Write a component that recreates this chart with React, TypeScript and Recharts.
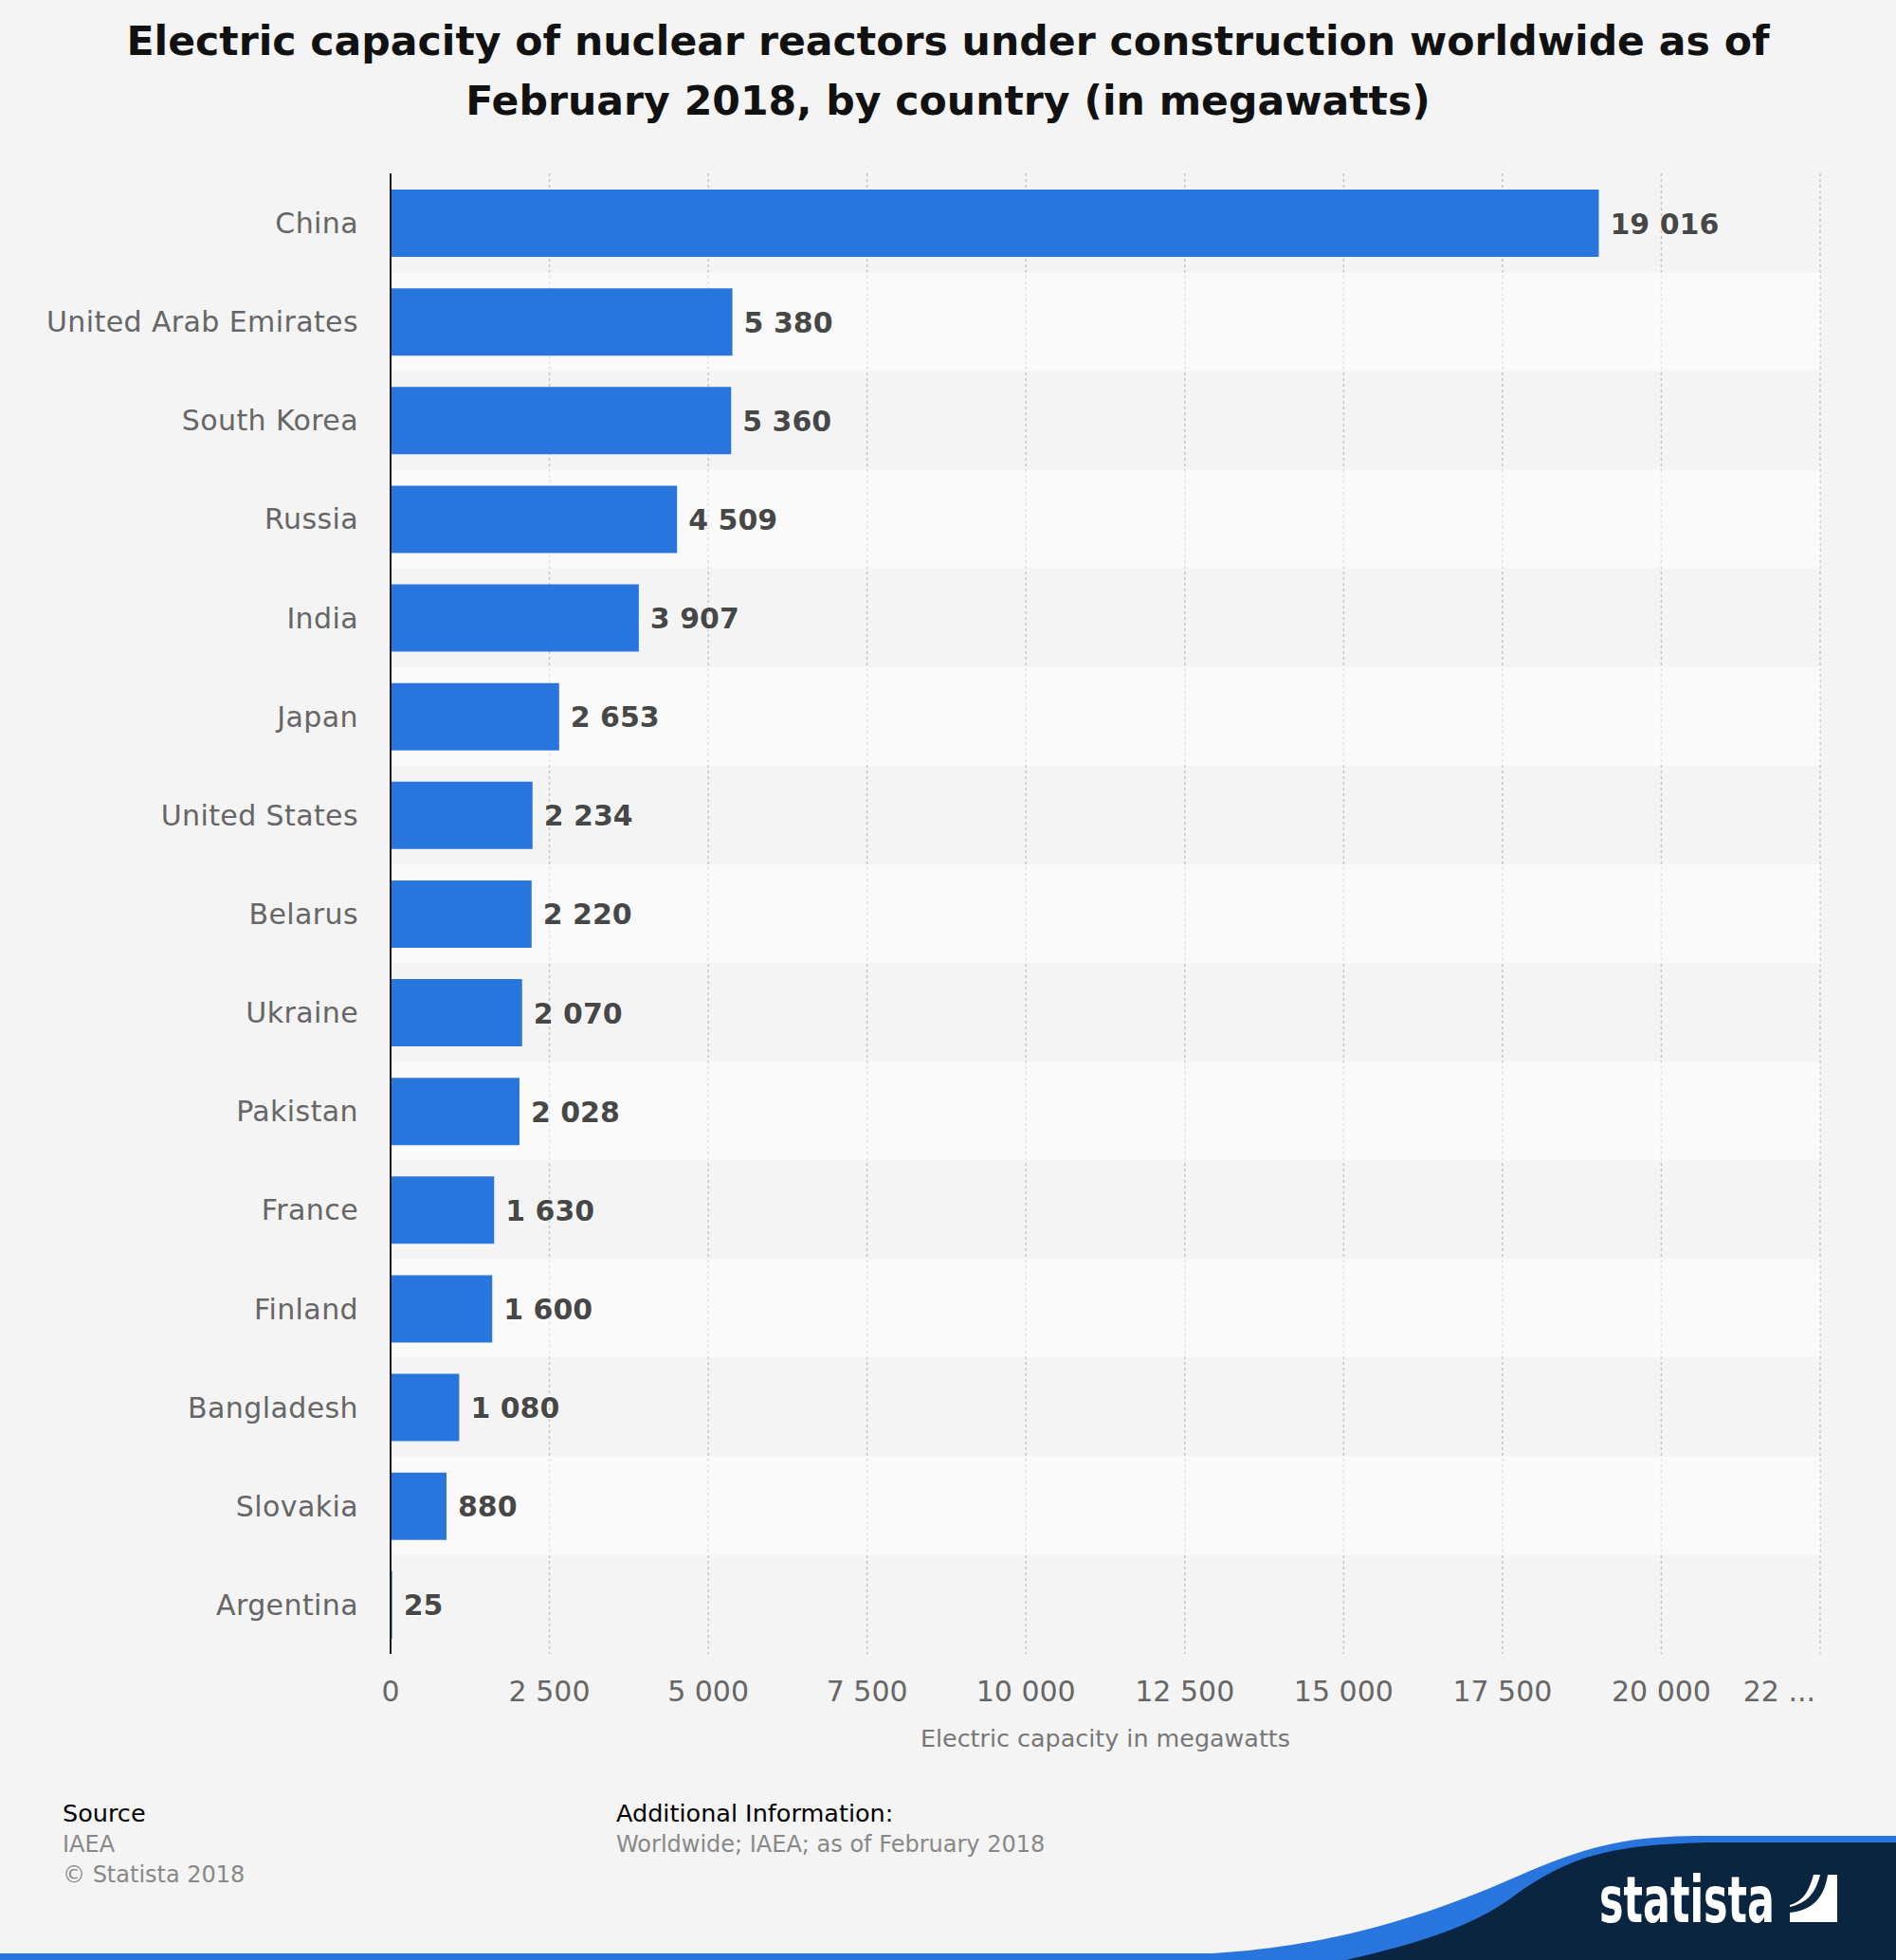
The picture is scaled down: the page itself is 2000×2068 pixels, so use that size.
import React from 'react';
import { BarChart, Bar, XAxis, YAxis, CartesianGrid, ReferenceArea, LabelList } from 'recharts';

const countries = [
  'China', 'United Arab Emirates', 'South Korea', 'Russia', 'India', 'Japan', 'United States',
  'Belarus', 'Ukraine', 'Pakistan', 'France', 'Finland', 'Bangladesh', 'Slovakia', 'Argentina',
];
const capacityMW = [19016, 5380, 5360, 4509, 3907, 2653, 2234, 2220, 2070, 2028, 1630, 1600, 1080, 880, 25];
const xTicks = [0, 2500, 5000, 7500, 10000, 12500, 15000, 17500, 20000, 22500];
const xTickLabels = ['0', '2 500', '5 000', '7 500', '10 000', '12 500', '15 000', '17 500', '20 000', '22 ...'];

const titleLines = [
  'Electric capacity of nuclear reactors under construction worldwide as of',
  'February 2018, by country (in megawatts)',
];
const axisTitle = 'Electric capacity in megawatts';

const data = countries.map((c, i) => ({ country: c, value: capacityMW[i] }));
const stripedRows = countries.filter((_, i) => i % 2 === 1);

const FONT = "'DejaVu Sans', sans-serif";
const BG = '#f4f4f4';
const BAR = '#2876dd';
const NAVY = '#0a2540';

const fmt = (n: number) => String(n).replace(/\B(?=(\d{3})+(?!\d))/g, ' ');

const XTick = (props: any) => {
  const { x, y, index } = props;
  const last = index === xTicks.length - 1;
  return (
    <text
      x={last ? x - 5 : x}
      y={y + 50}
      textAnchor={last ? 'end' : 'middle'}
      fontFamily={FONT}
      fontSize={30}
      fill="#666666"
    >
      {xTickLabels[index]}
    </text>
  );
};

const YTick = (props: any) => {
  const { x, y, payload } = props;
  return (
    <text x={x} y={y + 11} textAnchor="end" fontFamily={FONT} fontSize={30} fill="#666666" letterSpacing={0.4}>
      {payload.value}
    </text>
  );
};

const ValueLabel = (props: any) => {
  const { x, y, width, height, value } = props;
  return (
    <text
      x={x + width + 12}
      y={y + height / 2 + 11}
      fontFamily={FONT}
      fontSize={30}
      fontWeight="bold"
      fill="#474747"
      stroke="#ffffff"
      strokeWidth={2}
      paintOrder="stroke"
      strokeLinejoin="round"
    >
      {fmt(value)}
    </text>
  );
};

const AxisTitle = (props: any) => {
  const { viewBox } = props;
  return (
    <text
      x={viewBox.x + viewBox.width / 2}
      y={viewBox.y + 98}
      textAnchor="middle"
      fontFamily={FONT}
      fontSize={25.4}
      fill="#777777"
    >
      {axisTitle}
    </text>
  );
};

export default function App() {
  return (
    <div style={{ position: 'absolute', left: 0, top: 0, width: 2000, height: 2068, background: BG, overflow: 'hidden' }}>
      <svg width={2000} height={2068} style={{ position: 'absolute', left: 0, top: 0 }}>
        <text x={1000} y={58} textAnchor="middle" fontFamily={FONT} fontWeight="bold" fontSize={42.6} fill="#111111">
          {titleLines[0]}
        </text>
        <text x={1000} y={121} textAnchor="middle" fontFamily={FONT} fontWeight="bold" fontSize={42.6} fill="#111111">
          {titleLines[1]}
        </text>

        <text x={66} y={1922} fontFamily={FONT} fontSize={25.5} fill="#000000">Source</text>
        <text x={66} y={1954} fontFamily={FONT} fontSize={24} fill="#888888">IAEA</text>
        <text x={66} y={1986} fontFamily={FONT} fontSize={24} fill="#888888">© Statista 2018</text>
        <text x={650} y={1922} fontFamily={FONT} fontSize={25.5} fill="#000000">Additional Information:</text>
        <text x={650} y={1954} fontFamily={FONT} fontSize={24} fill="#888888">Worldwide; IAEA; as of February 2018</text>

        <rect x={0} y={2061} width={2000} height={7} fill={BAR} />
        <path
          d="M 1280 2061 C 1420 2052, 1520 2015, 1600 1980 C 1680 1945, 1720 1937, 1800 1937 L 2000 1937 L 2000 2068 L 1280 2068 Z"
          fill={BAR}
        />
        <path
          d="M 1420 2068 C 1500 2050, 1560 2030, 1600 1998 C 1660 1955, 1710 1945, 1810 1944 L 2000 1944 L 2000 2068 Z"
          fill={NAVY}
        />
        <text
          x={1687}
          y={2028}
          fontFamily="'Liberation Sans Narrow', 'DejaVu Sans Condensed', 'Roboto', sans-serif"
          fontWeight="bold"
          fontSize={68}
          fill="#ffffff"
          textLength={185}
          lengthAdjust="spacingAndGlyphs"
        >
          statista
        </text>
        <rect x={1888} y={1978} width={50} height={50} fill="#ffffff" />
        <path d="M 1888 1978 L 1913 1978 C 1908 1996, 1902 2006, 1888 2010 Z" fill={NAVY} />
        <path d="M 1920 1978 L 1928 1978 C 1924 2004, 1910 2016, 1888 2018 L 1888 2012 C 1906 2008, 1915 1998, 1920 1978 Z" fill={NAVY} />
      </svg>

      <BarChart
        width={2000}
        height={2068}
        data={data}
        layout="vertical"
        margin={{ top: 183, right: 80, bottom: 223, left: 12 }}
        style={{ position: 'absolute', left: 0, top: 0 }}
      >
        {stripedRows.map((c) => (
          <ReferenceArea key={c} y1={c} y2={c} fill="#ffffff" fillOpacity={0.5} stroke="none" />
        ))}
        <CartesianGrid horizontal={false} vertical stroke="#c6c6c6" strokeWidth={1.5} strokeDasharray="3 3" />
        <XAxis
          type="number"
          domain={[0, 22500]}
          ticks={xTicks}
          interval={0}
          axisLine={false}
          tickLine={false}
          tickSize={0}
          tickMargin={0}
          height={100}
          tick={<XTick />}
          label={<AxisTitle />}
        />
        <YAxis
          type="category"
          dataKey="country"
          width={400}
          axisLine={{ stroke: '#1a1a1a', strokeWidth: 2 }}
          tickLine={false}
          tickSize={0}
          tickMargin={34}
          interval={0}
          tick={<YTick />}
        />
        <Bar dataKey="value" fill={BAR} barSize={71} isAnimationActive={false}>
          <LabelList dataKey="value" content={<ValueLabel />} />
        </Bar>
      </BarChart>
    </div>
  );
}
